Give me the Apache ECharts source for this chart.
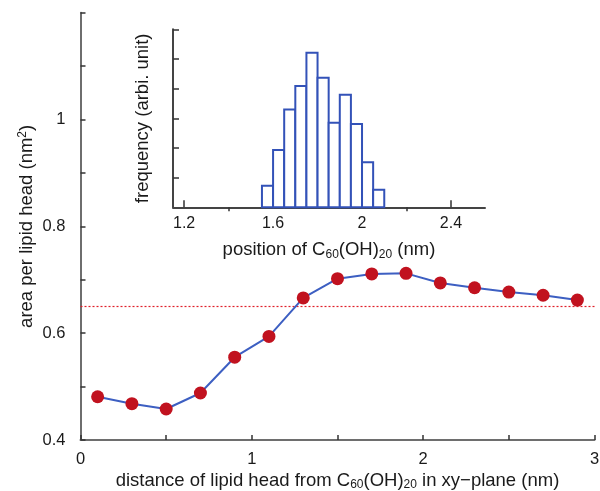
<!DOCTYPE html>
<html>
<head>
<meta charset="utf-8">
<script src="https://cdn.jsdelivr.net/npm/echarts@6/dist/echarts.min.js"></script>
<style>
  html, body { margin: 0; padding: 0; background: #fff; }
  #chart { width: 600px; height: 491px; }
</style>
</head>
<body>
<div id="chart"></div>
<script>
// Area per lipid head as a function of in-plane distance from the fullerenol
const distance = [0.1, 0.3, 0.5, 0.7, 0.9, 1.1, 1.3, 1.5, 1.7, 1.9, 2.1, 2.3, 2.5, 2.7, 2.9];
const areaPerLipid = [0.481, 0.468, 0.458, 0.488, 0.555, 0.594, 0.666, 0.702, 0.711, 0.712, 0.694, 0.685, 0.677, 0.671, 0.662];
const bulkArea = 0.653;

// Histogram of the fullerenol position (bin edges and frequency)
const binLeft  = [1.55, 1.60, 1.65, 1.70, 1.75, 1.80, 1.85, 1.90, 1.95, 2.00, 2.05];
const binRight = [1.60, 1.65, 1.70, 1.75, 1.80, 1.85, 1.90, 1.95, 2.00, 2.05, 2.10];
const frequency = [0.73, 1.93, 3.30, 4.09, 5.21, 4.37, 2.85, 3.79, 2.81, 1.52, 0.59];

// Tick positions and labels
const mainXTicks = [0, 0.5, 1, 1.5, 2, 2.5, 3];
const mainXLabels = [0, 1, 2, 3];
const mainYTicks = [0.4, 0.5, 0.6, 0.7, 0.8, 0.9, 1.0, 1.1, 1.2];
const mainYLabels = [0.4, 0.6, 0.8, 1];
const insetXLabels = [1.2, 1.6, 2, 2.4];
const insetXMinor = [1.4, 2.2];
const insetYTicks = [1, 2, 3, 4, 5, 6];

const FONT = '"Liberation Sans", Arial, Helvetica, sans-serif';
const TEXT = '#1a1a1a';
const AXIS = '#6e6e6e';

const rich = {
  base: { fontFamily: FONT, fontSize: 18.5, color: TEXT },
  sub: { fontFamily: FONT, fontSize: 12, color: TEXT, verticalAlign: 'bottom', padding: [9, 0, 0, 0] },
  sup: { fontFamily: FONT, fontSize: 12, color: TEXT, verticalAlign: 'top', padding: [0, 0, 9, 0] }
};

const chart = echarts.init(document.getElementById('chart'), null, { renderer: 'canvas' });

const histData = binLeft.map((l, i) => [l, binRight[i], frequency[i]]);

chart.setOption({
  animation: false,
  backgroundColor: '#fff',
  grid: [
    { left: 80.5, top: 12.7, width: 514, height: 427.3, outerBoundsMode: 'none', containLabel: false },
    { left: 173, top: 29.3, width: 312, height: 178, outerBoundsMode: 'none', containLabel: false }
  ],
  xAxis: [
    {
      gridIndex: 0, type: 'value', min: 0, max: 3,
      name: '{base|distance of lipid head from C}{sub|60}{base|(OH)}{sub|20}{base| in xy\u2212plane (nm)}',
      nameLocation: 'middle', nameGap: 30, nameMoveOverlap: false,
      nameTextStyle: { rich },
      axisLine: { show: true, onZero: false, lineStyle: { color: AXIS, width: 2 } },
      axisTick: { show: true, inside: true, length: 5, customValues: mainXTicks, lineStyle: { color: '#333', width: 1.5 } },
      axisLabel: { customValues: mainXLabels, margin: 11, fontFamily: FONT, fontSize: 16.5, color: TEXT },
      splitLine: { show: false }
    },
    {
      gridIndex: 1, type: 'value', min: 1.15, max: 2.553,
      name: '{base|position of C}{sub|60}{base|(OH)}{sub|20}{base| (nm)}',
      nameLocation: 'middle', nameGap: 32, nameMoveOverlap: false,
      nameTextStyle: { rich },
      axisLine: { show: true, onZero: false, lineStyle: { color: '#444', width: 2 } },
      axisTick: { show: true, inside: true, length: 7, customValues: insetXLabels, lineStyle: { color: '#333', width: 1.5 } },
      axisLabel: { customValues: insetXLabels, margin: 8, fontFamily: FONT, fontSize: 16, color: TEXT },
      splitLine: { show: false }
    },
    {
      gridIndex: 1, type: 'value', min: 1.15, max: 2.553,
      axisLine: { show: false },
      axisTick: { show: true, inside: true, length: 4, customValues: insetXMinor, lineStyle: { color: '#333', width: 1.5 } },
      axisLabel: { show: false },
      splitLine: { show: false }
    }
  ],
  yAxis: [
    {
      gridIndex: 0, type: 'value', min: 0.4, max: 1.2,
      name: '{base|area per lipid head (nm}{sup|2}{base|)}',
      nameLocation: 'middle', nameGap: 43, nameRotate: 90, nameMoveOverlap: false,
      nameTextStyle: { rich },
      axisLine: { show: true, onZero: false, lineStyle: { color: AXIS, width: 2 } },
      axisTick: { show: true, inside: true, length: 5, customValues: mainYTicks, lineStyle: { color: '#333', width: 1.5 } },
      axisLabel: { customValues: mainYLabels, margin: 15, fontFamily: FONT, fontSize: 16.5, color: TEXT },
      splitLine: { show: false }
    },
    {
      gridIndex: 1, type: 'value', min: 0, max: 6,
      name: '{base|frequency (arbi. unit)}',
      nameLocation: 'middle', nameGap: 21, nameRotate: 90, nameMoveOverlap: false,
      nameTextStyle: { rich },
      axisLine: { show: true, onZero: false, lineStyle: { color: '#444', width: 2 } },
      axisTick: { show: true, inside: true, length: 6, customValues: insetYTicks, lineStyle: { color: '#333', width: 1.5 } },
      axisLabel: { show: false },
      splitLine: { show: false }
    }
  ],
  series: [
    {
      type: 'line',
      xAxisIndex: 0, yAxisIndex: 0,
      data: distance.map((d, i) => [d, areaPerLipid[i]]),
      symbol: 'circle', symbolSize: 13,
      itemStyle: { color: '#c1121f' },
      lineStyle: { color: '#3d5fc2', width: 2 },
      z: 3,
      markLine: {
        silent: true, symbol: 'none', label: { show: false },
        lineStyle: { color: '#e0202a', type: [2, 2], width: 1.2, opacity: 1 },
        emphasis: { disabled: true },
        data: [{ yAxis: bulkArea }],
        z: 1
      }
    },
    {
      type: 'custom',
      xAxisIndex: 1, yAxisIndex: 1,
      data: histData,
      encode: { x: [0, 1], y: 2 },
      renderItem: function (params, api) {
        const topLeft = api.coord([api.value(0), api.value(2)]);
        const bottomRight = api.coord([api.value(1), 0]);
        return {
          type: 'rect',
          shape: { x: topLeft[0], y: topLeft[1], width: bottomRight[0] - topLeft[0], height: bottomRight[1] - topLeft[1] },
          style: { fill: '#fff', stroke: '#3352b8', lineWidth: 2 }
        };
      }
    }
  ]
});
</script>
</body>
</html>
